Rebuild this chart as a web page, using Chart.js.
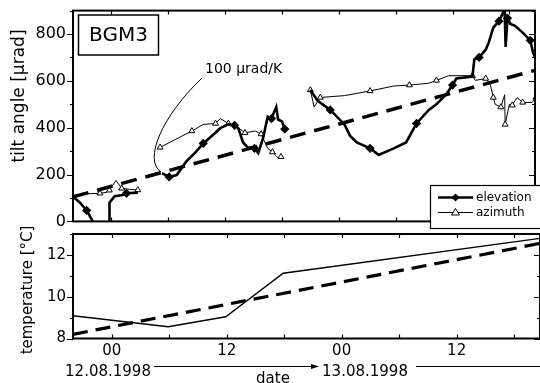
<!DOCTYPE html>
<html>
<head>
<meta charset="utf-8">
<script src="https://cdn.jsdelivr.net/npm/chart.js@4.4.1/dist/chart.umd.min.js"></script>
<style>
  html, body { margin: 0; padding: 0; background: #fff; overflow: hidden; }
  #wrap { position: relative; width: 540px; height: 383px; }
  #tilt { position: absolute; left: 0; top: 0; }
  #temp { position: absolute; left: 0; top: 214px; }
</style>
</head>
<body>
<div id="wrap">
  <canvas id="tilt" width="540" height="232"></canvas>
  <canvas id="temp" width="540" height="169"></canvas>
</div>
<script>
'use strict';

// hours after 12.08.1998 00:00
var xMin = -4.04, xMax = 44.7;
var tickHours = [0, 12, 24, 36];
var tickLabels = ['00', '12', '00', '12'];

// elevation (thick, diamonds), null = gap in record
var elevHours = [-4.07, -3.3, -2.6, -2.1, -1.7, -1.0,
  -0.2, -0.19, 0.35, 1.2, 1.6, 2.8, 4.0,
  5.35, 6.1, 6.9, 7.9, 8.9, 9.7, 10.6, 11.5, 12.35, 13.0, 13.4, 13.9, 14.4, 15.1, 15.5, 16.0, 16.5, 16.9, 17.4, 17.6, 18.0, 18.3, 20.0,
  21.0, 21.75, 23.1, 24.6, 25.2, 25.9, 27.3, 28.2, 29.8, 31.1, 32.2, 33.5, 34.3, 35.3, 36.0, 36.4, 38.1, 38.3, 38.8, 39.5, 39.8, 40.3, 40.9, 41.3, 41.5, 41.6, 41.8, 42.1, 42.6, 43.4, 44.2, 44.5, 44.8];
var elevTilt = [107, 80, 47, 11, -20, null,
  -20, 80, 108, 113, 120, 123, null,
  206, 190, 198, 255, 296, 333, 365, 398, 414, 410, 398, 337, 316, 312, 292, 353, 447, 439, 488, 435, 427, 394, null,
  561, 516, 476, 414, 365, 337, 312, 284, 312, 337, 418, 476, 500, 541, 582, 610, 618, 692, 700, 733, 761, 827, 855, 888, 905, 745, 867, 843, 835, 806, 773, 720, 692];

// azimuth (thin, open triangles)
var aziHours = [-4.07, -2.6, -1.2, -0.5, -0.2, 0.5, 1.1, 1.9, 2.8, 4.0,
  5.15, 7.1, 8.5, 9.7, 11.0, 11.5, 12.35, 13.2, 14.1, 15.2, 15.8, 16.5, 17.0, 17.6, 17.9, 20.0,
  21.0, 21.4, 22.05, 24.6, 27.3, 29.8, 31.45, 33.5, 34.3, 35.6, 38.1, 38.4, 39.5, 40.0, 40.3, 40.5, 41.1, 41.5, 41.55, 42.0, 42.3, 42.8, 43.4, 44.4, 44.8];
var aziTilt = [108, 118, 120, 124, 133, 175, 141, 137, 134, null,
  316, 357, 386, 414, 418, 439, 418, 406, 378, 386, 373, 312, 296, 271, 276, null,
  561, 488, 529, 537, 557, 578, 582, 590, 602, 622, 622, 602, 610, 582, 529, 500, 488, 541, 414, 500, 496, 529, 508, 508, 529];

// 100 µrad/K trend
var trendHours = [-4.04, 44.7];
var trendTilt = [105, 645];

// temperature
var tempHours = [-4.07, 5.9, 11.9, 17.9, 44.7];
var tempVals = [9.09, 8.56, 9.04, 11.12, 12.79];
var tempTrend = [8.2, 12.55];

Chart.defaults.font.family = "'DejaVu Sans', sans-serif";
Chart.defaults.color = '#000';

function pts(xs, ys) {
  return xs.map(function(x, i){ return {x: x, y: ys[i]}; });
}

function framePlugin(yMajor, yMinor, extra) {
  return {
    id: 'frame',
    afterDraw: function(chart) {
      var ctx = chart.ctx, a = chart.chartArea;
      var xs = chart.scales.x, ys = chart.scales.y;
      ctx.save();
      ctx.strokeStyle = '#000';
      ctx.lineWidth = 2;
      ctx.strokeRect(a.left, a.top, a.right - a.left, a.bottom - a.top);
      ctx.lineWidth = 1.2;
      ctx.beginPath();
      for (var h = 0; h <= xs.max; h += 6) {
        var px = Math.round(xs.getPixelForValue(h)) + 0.5;
        ctx.moveTo(px, a.top); ctx.lineTo(px, a.top + 4);
        ctx.moveTo(px, a.bottom); ctx.lineTo(px, a.bottom - 4);
      }
      for (var v = ys.min; v <= ys.max + 0.001; v += yMinor) {
        var py = Math.round(ys.getPixelForValue(v)) + 0.5;
        var len = (Math.abs(v % yMajor) < 0.001) ? 6 : 3;
        ctx.moveTo(a.left - len, py); ctx.lineTo(a.left, py);
        ctx.moveTo(a.right, py); ctx.lineTo(a.right - len, py);
      }
      ctx.stroke();
      if (extra) extra(ctx);
      ctx.restore();
    }
  };
}

var tiltChart = new Chart(document.getElementById('tilt'), {
  type: 'line',
  data: {
    datasets: [{
      label: 'trend',
      data: pts(trendHours, trendTilt),
      borderColor: '#000',
      borderWidth: 3.5,
      borderDash: [16, 9],
      pointRadius: 0
    }, {
      label: 'elevation',
      data: pts(elevHours, elevTilt),
      borderColor: '#000',
      borderWidth: 2.6,
      pointStyle: 'rectRot',
      backgroundColor: '#000',
      pointBackgroundColor: '#000',
      pointRadius: function(c){ return (c.dataIndex % 4 === 2) ? 2.8 : 0; },
      spanGaps: false
    }, {
      label: 'azimuth',
      data: pts(aziHours, aziTilt),
      borderColor: '#000',
      borderWidth: 1,
      pointStyle: 'triangle',
      pointBackgroundColor: '#fff',
      pointBorderColor: '#000',
      pointBorderWidth: 1,
      pointRadius: function(c){ return (c.dataIndex % 2 === 0) ? 3.4 : 0; },
      spanGaps: false
    }]
  },
  options: {
    responsive: false,
    animation: false,
    events: [],
    layout: { padding: { top: 9.3, right: 0, bottom: 2.5, left: 0 } },
    plugins: { legend: { display: false }, tooltip: { enabled: false } },
    scales: {
      x: { type: 'linear', min: xMin, max: xMax, display: false },
      y: {
        min: 0, max: 900,
        border: { display: false },
        grid: { display: false, drawTicks: true, tickLength: 6 },
        ticks: { stepSize: 200, includeBounds: false, padding: 1, font: { size: 16 } },
        afterFit: function(s){ s.width = 73; }
      }
    }
  },
  plugins: [framePlugin(200, 100, function(ctx){
    ctx.fillStyle = '#000';
    // y title
    ctx.save();
    ctx.translate(20, 96);
    ctx.rotate(-Math.PI / 2);
    ctx.font = "17px 'DejaVu Sans'";
    ctx.textAlign = 'center';
    ctx.textBaseline = 'middle';
    ctx.fillText('tilt angle [\u03BCrad]', 0, 0);
    ctx.restore();
    // station label
    ctx.lineWidth = 1.5;
    ctx.strokeRect(78.5, 15, 80, 40);
    ctx.font = "20px 'DejaVu Sans'";
    ctx.textAlign = 'center';
    ctx.textBaseline = 'alphabetic';
    ctx.fillText('BGM3', 118.5, 41);
    // trend note
    ctx.font = "14px 'DejaVu Sans'";
    ctx.textAlign = 'left';
    ctx.fillText('100 \u03BCrad/K', 205, 73);
    ctx.lineWidth = 1;
    ctx.beginPath();
    ctx.moveTo(202, 78);
    ctx.bezierCurveTo(162, 116, 143, 160, 161, 172);
    ctx.stroke();
    // legend
    ctx.fillStyle = '#fff';
    ctx.fillRect(430.5, 185.5, 112, 43);
    ctx.lineWidth = 1.2;
    ctx.strokeRect(430.5, 185.5, 112, 43);
    ctx.fillStyle = '#000';
    ctx.lineWidth = 2.6;
    ctx.beginPath(); ctx.moveTo(438, 197.5); ctx.lineTo(473, 197.5); ctx.stroke();
    ctx.beginPath();
    ctx.moveTo(455.5, 193.5); ctx.lineTo(459.5, 197.5); ctx.lineTo(455.5, 201.5); ctx.lineTo(451.5, 197.5);
    ctx.closePath(); ctx.fill();
    ctx.lineWidth = 1;
    ctx.beginPath(); ctx.moveTo(438, 212.5); ctx.lineTo(473, 212.5); ctx.stroke();
    ctx.fillStyle = '#fff';
    ctx.beginPath();
    ctx.moveTo(455.5, 208.5); ctx.lineTo(459.5, 215); ctx.lineTo(451.5, 215);
    ctx.closePath(); ctx.fill(); ctx.stroke();
    ctx.fillStyle = '#000';
    ctx.font = "12px 'DejaVu Sans'";
    ctx.textBaseline = 'middle';
    ctx.fillText('elevation', 476, 197.5);
    ctx.fillText('azimuth', 476, 212.5);
  })]
});

var tempChart = new Chart(document.getElementById('temp'), {
  type: 'line',
  data: {
    datasets: [{
      label: 'trend',
      data: pts(trendHours, tempTrend),
      borderColor: '#000',
      borderWidth: 3.2,
      borderDash: [15, 8],
      pointRadius: 0
    }, {
      label: 'temperature',
      data: pts(tempHours, tempVals),
      borderColor: '#000',
      borderWidth: 1.4,
      pointRadius: 0
    }]
  },
  options: {
    responsive: false,
    animation: false,
    events: [],
    layout: { padding: { top: 20, right: 0, bottom: 0, left: 0 } },
    plugins: { legend: { display: false }, tooltip: { enabled: false } },
    scales: {
      x: {
        type: 'linear', min: xMin, max: xMax,
        border: { display: false },
        grid: { display: false, drawTicks: true, tickLength: 3 },
        ticks: {
          padding: 1, maxRotation: 0, font: { size: 15 },
          callback: function(v){ var i = tickHours.indexOf(v); return i < 0 ? '' : tickLabels[i]; }
        },
        afterBuildTicks: function(s){ s.ticks = tickHours.map(function(v){ return {value: v}; }); },
        afterFit: function(s){ s.height = 44.5; }
      },
      y: {
        min: 8, max: 13,
        border: { display: false },
        grid: { display: false, drawTicks: true, tickLength: 6 },
        ticks: { stepSize: 2, includeBounds: false, padding: 1, font: { size: 15 } },
        afterFit: function(s){ s.width = 73; }
      }
    }
  },
  plugins: [framePlugin(2, 1, function(ctx){
    ctx.fillStyle = '#000';
    ctx.strokeStyle = '#000';
    ctx.save();
    ctx.translate(28, 76);
    ctx.rotate(-Math.PI / 2);
    ctx.font = "15px 'DejaVu Sans'";
    ctx.textAlign = 'center';
    ctx.textBaseline = 'middle';
    ctx.fillText('temperature [\u00B0C]', 0, 0);
    ctx.restore();
    ctx.font = "15px 'DejaVu Sans'";
    ctx.textAlign = 'center';
    ctx.textBaseline = 'alphabetic';
    ctx.fillText('12.08.1998', 108, 161.5);
    ctx.fillText('13.08.1998', 365, 161.5);
    ctx.fillText('date', 273, 169);
    // day arrows
    ctx.lineWidth = 1;
    ctx.beginPath();
    ctx.moveTo(154, 152.5); ctx.lineTo(316, 152.5);
    ctx.moveTo(416, 152.5); ctx.lineTo(540, 152.5);
    ctx.stroke();
    ctx.beginPath();
    ctx.moveTo(319, 152.5); ctx.lineTo(311, 150); ctx.lineTo(311, 155); ctx.closePath();
    ctx.fill();
  })]
});
</script>
</body>
</html>
